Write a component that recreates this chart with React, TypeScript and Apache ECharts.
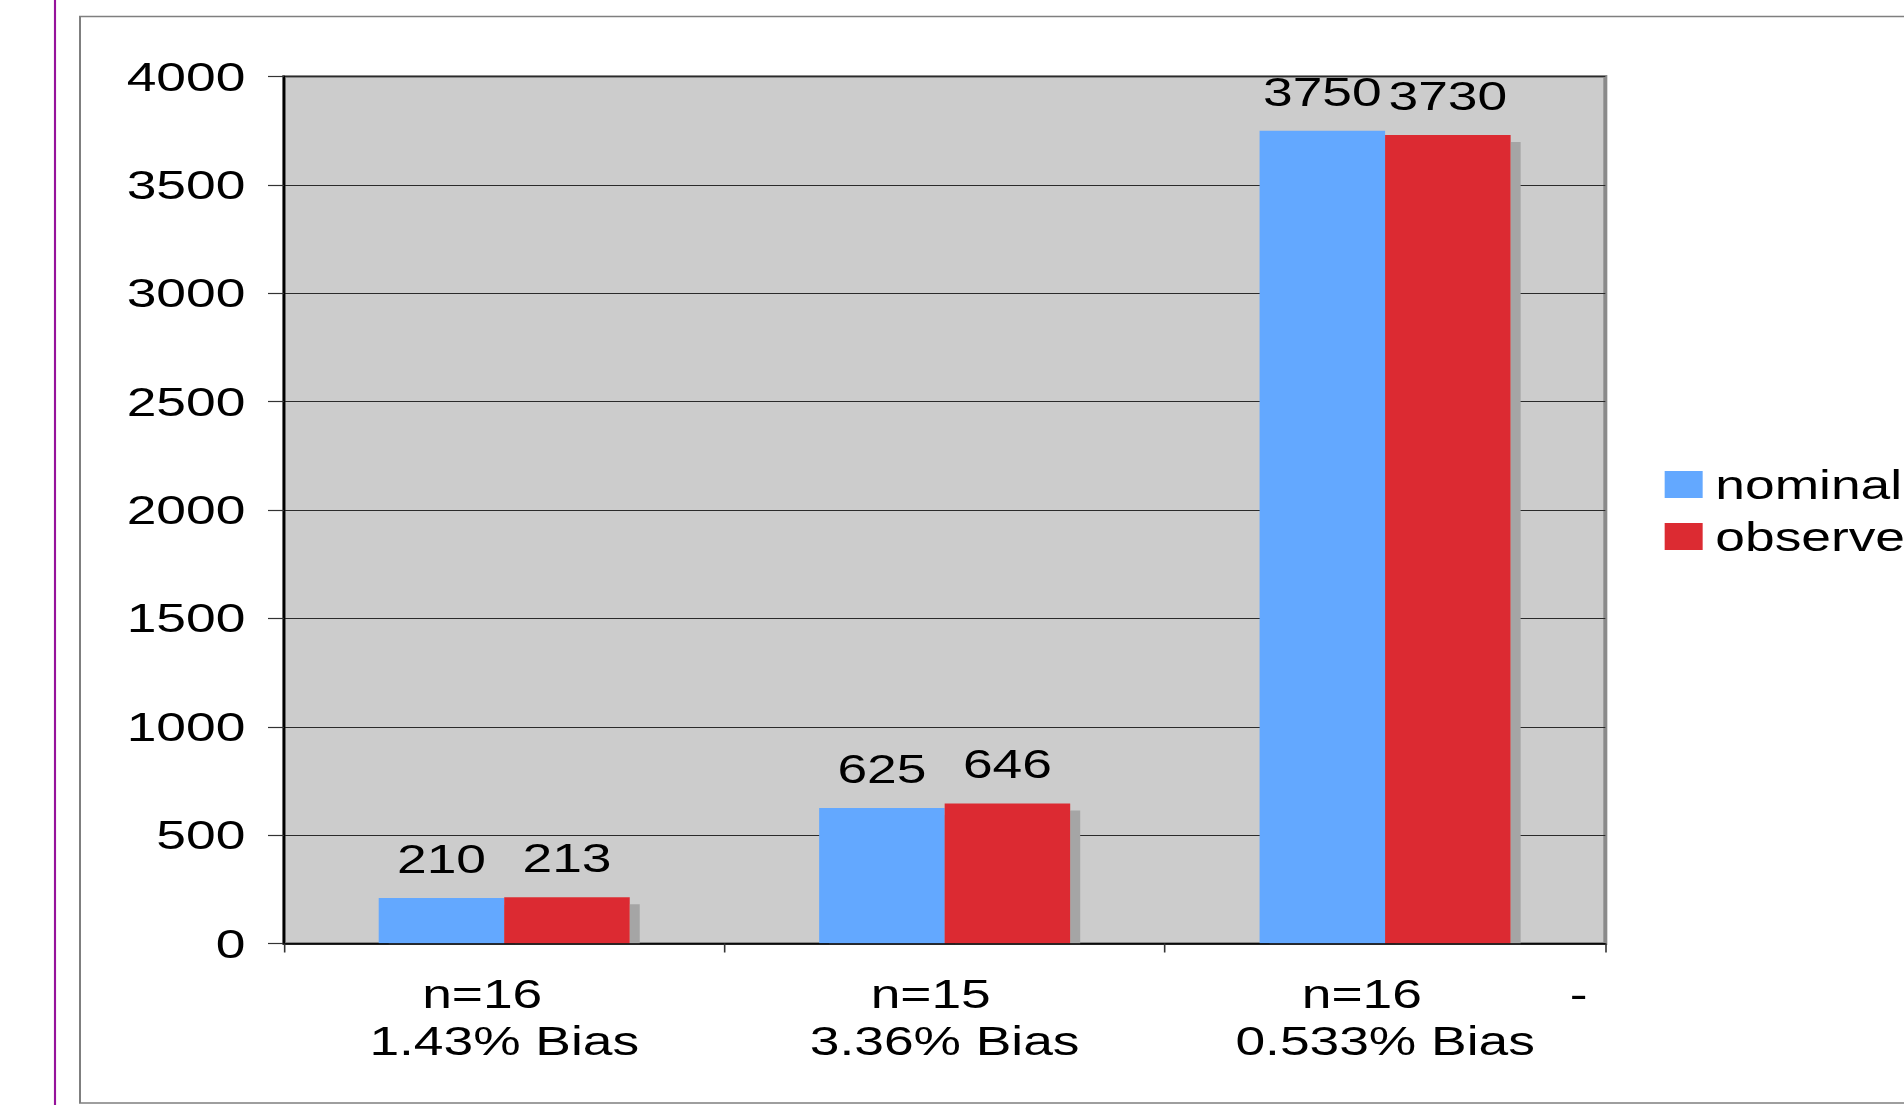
import { useEffect, useRef } from 'react';
import * as echarts from 'echarts';

// Category label lines and bar values
const sampleSizes = ['n=16', 'n=15', 'n=16'];
const biasLabels = ['1.43% Bias', '3.36% Bias', '0.533% Bias'];
const seriesNames = ['nominal', 'observed'];
const nominal = [210, 625, 3750];
const observed = [213, 646, 3730];
const yMin = 0;
const yMax = 4000;
const yInterval = 500;

const categories = sampleSizes.map((s, i) => `${s}\n${biasLabels[i]}`);

// The chart is laid out in a narrower box and widened horizontally.
const BASE_W = 1428;
const BASE_H = 1105;
const STRETCH = 1904 / BASE_W;
const FONT = '"Liberation Sans", Arial, Helvetica, sans-serif';
const BLUE = '#63a8ff';
const RED = '#dc2b32';

// Extra right padding for the first label line of each category
const firstLinePad = [33, 21, 35];

export default function App() {
  const ref = useRef<HTMLDivElement>(null);

  useEffect(() => {
    if (!ref.current) return;
    const chart = echarts.init(ref.current, null, { renderer: 'svg' });

    const rich: Record<string, any> = {
      b: { fontSize: 40, lineHeight: 47, fontFamily: FONT, color: '#000' },
    };
    firstLinePad.forEach((p, i) => {
      rich['n' + i] = {
        fontSize: 40,
        lineHeight: 47,
        fontFamily: FONT,
        color: '#000',
        padding: [0, p, 0, 0],
      };
    });

    const barLabel = {
      show: true,
      position: 'top',
      distance: 19,
      fontSize: 40,
      fontFamily: FONT,
      color: '#000',
    };

    chart.setOption({
      animation: false,
      backgroundColor: '#ffffff',
      textStyle: { fontFamily: FONT },
      grid: {
        left: 213,
        top: 76.5,
        width: 991,
        height: 867,
        show: true,
        backgroundColor: '#cccccc',
        borderColor: '#8a8a8a',
        borderWidth: 3,
      },
      legend: {
        orient: 'vertical',
        left: 1243.5,
        top: 459.5,
        itemWidth: 28.5,
        itemHeight: 27,
        itemGap: 12,
        icon: 'rect',
        data: seriesNames,
        textStyle: {
          fontSize: 40,
          fontFamily: FONT,
          color: '#000',
          padding: [0, 0, 0, 4.5],
        },
      },
      xAxis: {
        type: 'category',
        data: categories,
        z: 10,
        axisLine: { show: true, lineStyle: { color: '#000', width: 1.5 } },
        axisTick: { show: true, length: 9, lineStyle: { color: '#333', width: 1.2 } },
        axisLabel: {
          margin: 27,
          interval: 0,
          formatter: (value: string, idx: number) => {
            const [a, b] = value.split('\n');
            return `{n${idx}|${a}}\n{b|${b}}`;
          },
          rich,
        },
      },
      yAxis: {
        type: 'value',
        min: yMin,
        max: yMax,
        interval: yInterval,
        axisLine: { show: true, lineStyle: { color: '#000', width: 1.8 } },
        axisTick: { show: true, length: 12, lineStyle: { color: '#333', width: 1.2 } },
        axisLabel: {
          margin: 29,
          fontSize: 40,
          fontFamily: FONT,
          color: '#000',
          formatter: (v: number) => String(v),
        },
        splitLine: { show: true, lineStyle: { color: '#2a2a2a', width: 1 } },
      },
      series: [
        {
          name: seriesNames[0],
          type: 'bar',
          data: nominal,
          barGap: '0%',
          barCategoryGap: '43%',
          label: barLabel,
          itemStyle: {
            color: BLUE,
            shadowColor: '#a5a5a5',
            shadowOffsetX: 7.5,
            shadowOffsetY: 7,
            shadowBlur: 0,
          },
        },
        {
          name: seriesNames[1],
          type: 'bar',
          data: observed,
          barGap: '0%',
          barCategoryGap: '43%',
          label: barLabel,
          itemStyle: {
            color: RED,
            shadowColor: '#a5a5a5',
            shadowOffsetX: 7.5,
            shadowOffsetY: 7,
            shadowBlur: 0,
          },
        },
      ],
      graphic: [
        {
          type: 'line',
          silent: true,
          shape: { x1: 41.25, y1: 0, x2: 41.25, y2: BASE_H },
          style: { stroke: '#96139b', lineWidth: 1.6 },
        },
        {
          type: 'rect',
          silent: true,
          shape: { x: 60, y: 16.5, width: 1500, height: 1086.5 },
          style: { fill: 'none', stroke: '#7f7f7f', lineWidth: 1.5 },
        },
        {
          // hides the part of the bar shadows that falls below the baseline
          type: 'rect',
          silent: true,
          z: 5,
          shape: { x: 215, y: 945, width: 987, height: 10 },
          style: { fill: '#ffffff' },
        },
        {
          type: 'text',
          silent: true,
          x: 1184,
          y: 994,
          style: {
            text: '-',
            font: `40px ${FONT}`,
            fill: '#000',
            textAlign: 'center',
            textVerticalAlign: 'middle',
          },
        },
      ],
    });

    return () => chart.dispose();
  }, []);

  return (
    <div
      style={{
        position: 'absolute',
        left: 0,
        top: 0,
        width: 1904,
        height: 1105,
        overflow: 'hidden',
        background: '#fff',
      }}
    >
      <div
        ref={ref}
        style={{
          width: BASE_W,
          height: BASE_H,
          transform: `scaleX(${STRETCH})`,
          transformOrigin: '0 0',
        }}
      />
    </div>
  );
}
